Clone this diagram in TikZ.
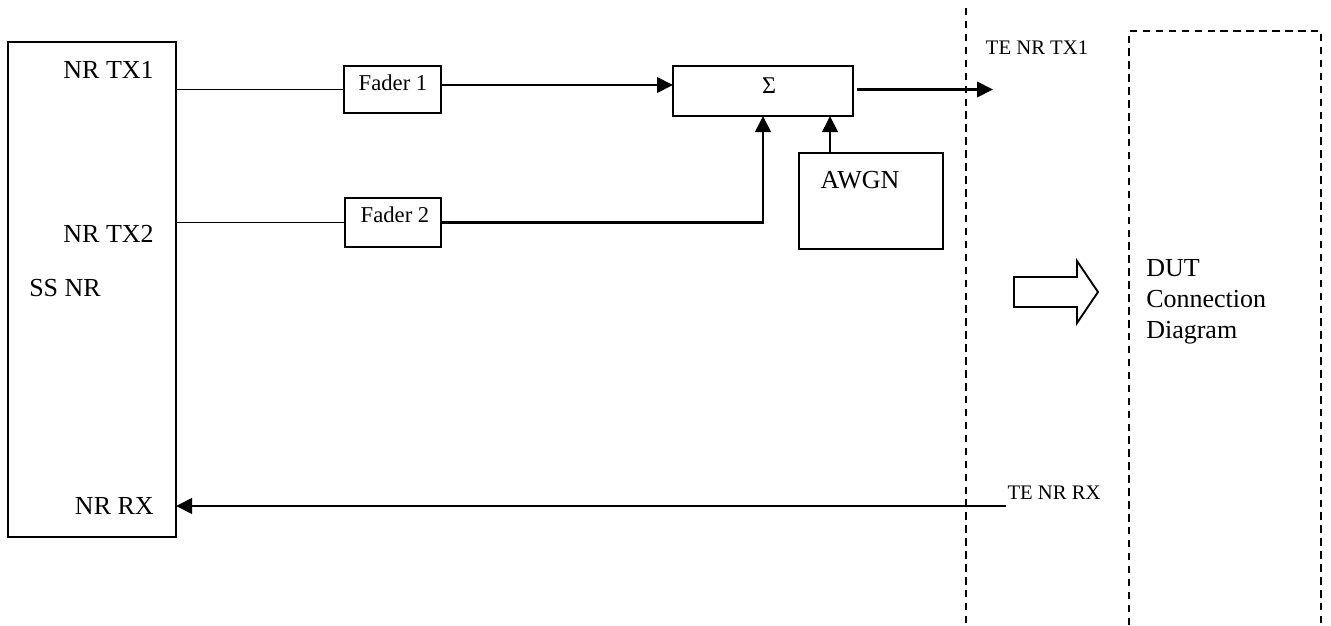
\documentclass[tikz,border=0pt]{standalone}
\usepackage{fontspec}
\setmainfont{Liberation Serif}
\usetikzlibrary{arrows.meta}
\begin{document}
\begin{tikzpicture}[x=0.75pt,y=-0.75pt,
  box/.style={draw, line width=1.5pt, inner sep=0pt, outer sep=0pt},
  wire/.style={line width=1.3pt},
  arr/.style={line width=2pt, -{Triangle[length=12pt,width=11.5pt]}},
  dashln/.style={line width=1.3pt, dash pattern=on 5.6pt off 4.1pt},
  lbig/.style={font=\fontsize{19.5pt}{23.25pt}\selectfont, inner sep=0pt},
  lmid/.style={font=\fontsize{17pt}{20pt}\selectfont, inner sep=0pt},
  lsmall/.style={font=\fontsize{15.5pt}{18pt}\selectfont, inner sep=0pt}]
\useasboundingbox (0,0) rectangle (1331,625);

% boxes
\node[box, minimum width=126pt, minimum height=371.25pt] (ssnr) at (92,289.5) {};
\node[box, minimum width=72.75pt, minimum height=35.25pt] (fader1) at (392.5,89.5) {};
\node[box, minimum width=72pt, minimum height=36.75pt] (fader2) at (393,222.5) {};
\node[box, minimum width=135pt, minimum height=37.5pt] (sum) at (763,91) {};
\node[box, minimum width=108pt, minimum height=72pt] (awgn) at (871,201) {};

% texts
\node[lbig, anchor=east] (tx1) at (154,70) {NR TX1};
\node[lbig, anchor=east] (tx2) at (154,234) {NR TX2};
\node[lbig, anchor=west] (ssnrlbl) at (29,288) {SS NR};
\node[lbig, anchor=east] (rx) at (154,506) {NR RX};
\node[lmid] (f1lbl) at (393,82.5) {Fader 1};
\node[lmid] (f2lbl) at (395,215) {Fader 2};
\node[font=\fontsize{18pt}{20pt}\selectfont, inner sep=0pt] (sigma) at (769,86) {Σ};
\node[lbig] (awgnlbl) at (860,180.5) {AWGN};
\node[lsmall] (tetx) at (1037,48) {TE NR TX1};
\node[lsmall] (terx) at (1054,493) {TE NR RX};
\node[lbig, anchor=north west, align=left] (dut) at (1146,259) {DUT\\Connection\\Diagram};

% connectors
\draw[wire] (ssnr.east |- fader1.west) -- (fader1.west);
\draw[wire] (ssnr.east |- fader2.west) -- (fader2.west);
\coordinate (f1out) at (441,85);
\draw[arr] (f1out) -- (f1out -| sum.west);
\draw[arr] (fader2.east) -| (sum.south);
\coordinate (awgnout) at (830,153);
\draw[arr] (awgnout) -- (awgnout |- sum.south);
\coordinate (sumout) at (857,89.5);
\coordinate (tetxpt) at (993,89.5);
\draw[arr] (sumout) -- (tetxpt);
\coordinate (rxpt) at (1006,506);
\draw[arr] (rxpt) -- (rxpt -| ssnr.east);

% dashed boundaries
\draw[dashln] (966,8) -- (966,625);
\draw[dashln] (1129,625) -- (1129,31) -- (1321,31) -- (1321,625);

% hollow arrow
\draw[line width=1.4pt] (1014,277) -- (1077,277) -- (1077,261) -- (1098,292)
  -- (1077,323) -- (1077,307) -- (1014,307) -- cycle;
\end{tikzpicture}
\end{document}
